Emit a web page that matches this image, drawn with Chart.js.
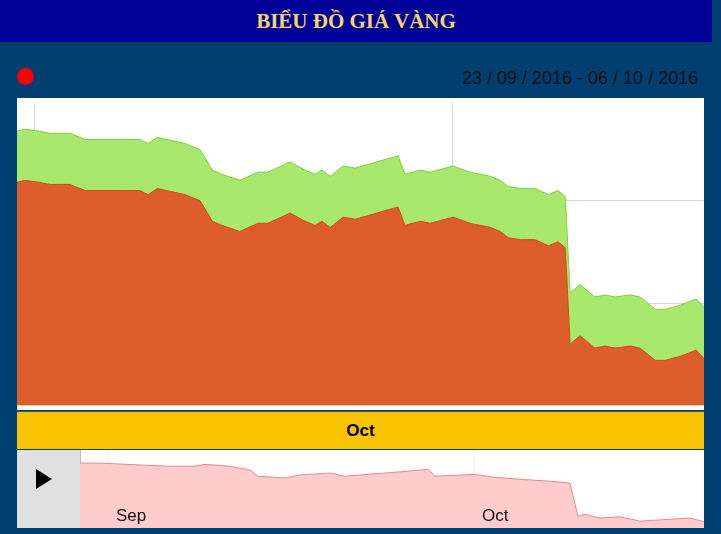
<!DOCTYPE html>
<html>
<head>
<meta charset="utf-8">
<script src="https://cdn.jsdelivr.net/npm/chart.js@4/dist/chart.umd.min.js"></script>
<style>
    body { margin: 0; width: 721px; height: 534px; background: #003f70; position: relative; overflow: hidden; font-family: "Liberation Sans", Arial, sans-serif; }
    .g-header { position: absolute; left: 0; top: 0; width: 712px; height: 42px; background: #000096; text-align: center; }
    .g-header span { line-height: 42px; font-family: "Liberation Serif", serif; font-weight: bold; font-size: 21px; color: #f3d66a; }
    .g-dot { position: absolute; left: 17px; top: 68px; width: 17px; height: 17px; border-radius: 50%; background: #f00; }
    .g-range { position: absolute; left: 462px; top: 68px; width: 242px; overflow: hidden; white-space: nowrap; font-size: 18px; color: #111; }
    .g-main { position: absolute; left: 17px; top: 98px; width: 687px; height: 312px; background: #fff; }
    .g-band { position: absolute; left: 17px; top: 411px; width: 687px; height: 37px; background: #f8c300; text-align: center; font-weight: bold; font-size: 17px; line-height: 37px; border-top: 1px solid #455; }
    .g-nav { position: absolute; left: 17px; top: 450px; width: 687px; height: 78px; background: #fff; }
    .g-play { position: absolute; left: 0; top: 0; width: 63px; height: 78px; background: #e0e0e0; border-right: 1px solid #bbb; }
    .g-play i { position: absolute; left: 19px; top: 19px; border-left: 16px solid #000; border-top: 10px solid transparent; border-bottom: 10px solid transparent; }
    .g-nav-lbl { position: absolute; top: 56px; font-size: 17px; color: #111; }
</style>
</head>
<body>
<div class="g-header"><span>BIỂU ĐỒ GIÁ VÀNG</span></div>
<div class="g-dot"></div>
<div class="g-range">23 / 09 / 2016 - 06 / 10 / 2016</div>
<div class="g-main"><canvas id="main-chart"></canvas></div>
<div class="g-band">Oct</div>
<div class="g-nav">
    <div class="g-play"><i></i></div>
    <div style="position:absolute; left:63px; top:0; width:624px; height:78px;"><canvas id="nav-chart"></canvas></div>
    <span class="g-nav-lbl" style="left:99px">Sep</span>
    <span class="g-nav-lbl" style="left:465px">Oct</span>
</div>

<script>(function() { "use strict";

    // days since 23/09 (fractional)
    var days = [0, 0.15, 0.43, 0.62, 1.00, 1.29, 1.76, 1.95, 2.04, 2.32, 2.48, 2.65, 3.18, 3.46, 3.69, 3.87, 4.21, 4.55, 4.74, 5.16,
        5.44, 5.63, 5.76, 5.92, 6.16, 6.39, 7.20, 7.33, 7.62, 7.81, 8.24, 8.56, 8.94, 9.13, 9.28, 9.51, 9.79, 10.04, 10.22, 10.36,
        10.45, 10.64, 10.92, 11.11, 11.30, 11.59, 11.77, 12.06, 12.25, 12.53, 12.83, 12.98];
    var sell_prices = [36.34, 36.35, 36.34, 36.33, 36.33, 36.30, 36.30, 36.30, 36.30, 36.30, 36.28, 36.31, 36.28, 36.25, 36.15, 36.13, 36.10, 36.14, 36.14, 36.19,
        36.15, 36.13, 36.15, 36.12, 36.17, 36.16, 36.22, 36.13, 36.15, 36.14, 36.17, 36.14, 36.12, 36.10, 36.07, 36.06, 36.06, 36.03, 36.05, 36.02,
        35.55, 35.59, 35.53, 35.54, 35.53, 35.54, 35.53, 35.47, 35.47, 35.49, 35.52, 35.48];
    var buy_prices = [36.09, 36.10, 36.09, 36.08, 36.08, 36.05, 36.05, 36.05, 36.05, 36.05, 36.03, 36.06, 36.03, 36.00, 35.90, 35.88, 35.85, 35.89, 35.89, 35.94,
        35.90, 35.88, 35.90, 35.87, 35.92, 35.91, 35.97, 35.88, 35.90, 35.89, 35.92, 35.89, 35.87, 35.85, 35.82, 35.81, 35.81, 35.78, 35.80, 35.77,
        35.30, 35.34, 35.28, 35.29, 35.28, 35.29, 35.28, 35.22, 35.22, 35.24, 35.27, 35.23];
    var y_ticks = [35.0, 35.5, 36.0];
    var x_grid_days = [0.34, 8.22];

    // navigator (longer history)
    var nav_days = [0, 1.28, 3.85, 5.77, 7.37, 8.01, 9.62, 10.9, 11.41, 13.14, 14.1, 16.03, 16.99, 17.95, 20.51, 22.31, 22.76, 25.32,
        26.28, 28.2, 30.13, 31.41, 31.92, 32.37, 33.33, 34.62, 35.9, 37.18, 39.1, 40];
    var nav_prices = [36.3, 36.3, 36.27, 36.25, 36.25, 36.28, 36.25, 36.19, 36.09, 36.06, 36.11, 36.14, 36.09, 36.11, 36.16, 36.2, 36.09, 36.12,
        36.08, 36.04, 36.01, 35.98, 35.45, 35.48, 35.42, 35.44, 35.37, 35.39, 35.42, 35.36];
    var nav_grid_days = [1.8, 25.25];

    function toPoints(xs, ys) {
        return xs.map(function(x, i) { return { x: x, y: ys[i] }; });
    }

    new Chart(document.getElementById('main-chart'), {
        type: 'line',
        data: {
            datasets: [{
                data: toPoints(days, buy_prices),
                backgroundColor: '#dd5e2a',
                borderColor: '#c84e1c',
                borderWidth: 1,
                fill: 'start',
                pointRadius: 0
            }, {
                data: toPoints(days, sell_prices),
                backgroundColor: '#a8e86c',
                borderColor: '#7fd040',
                borderWidth: 1,
                fill: 'start',
                pointRadius: 0
            }]
        },
        options: {
            responsive: true,
            maintainAspectRatio: false,
            animation: false,
            layout: { padding: 0 },
            plugins: { legend: { display: false }, tooltip: { enabled: false } },
            scales: {
                x: {
                    type: 'linear',
                    min: 0,
                    max: 12.98,
                    afterBuildTicks: function(axis) { axis.ticks = x_grid_days.map(function(v) { return { value: v }; }); },
                    ticks: { display: false },
                    grid: { color: '#dadada', drawTicks: false },
                    border: { display: false }
                },
                y: {
                    min: 35.0,
                    max: 36.48,
                    afterBuildTicks: function(axis) { axis.ticks = y_ticks.map(function(v) { return { value: v }; }); },
                    ticks: {
                        mirror: true,
                        padding: -5,
                        labelOffset: -10,
                        color: '#222',
                        font: { size: 16, family: 'Liberation Sans' },
                        callback: function(v) { return v.toFixed(1).replace('.', ','); }
                    },
                    grid: { color: '#dadada', drawTicks: false },
                    border: { display: false }
                }
            }
        }
    });

    new Chart(document.getElementById('nav-chart'), {
        type: 'line',
        data: {
            datasets: [{
                data: toPoints(nav_days, nav_prices),
                backgroundColor: '#ffcccc',
                borderColor: '#e88a8a',
                borderWidth: 1,
                fill: 'start',
                pointRadius: 0
            }]
        },
        options: {
            responsive: true,
            maintainAspectRatio: false,
            animation: false,
            plugins: { legend: { display: false }, tooltip: { enabled: false } },
            scales: {
                x: {
                    type: 'linear',
                    min: 0,
                    max: 40,
                    afterBuildTicks: function(axis) { axis.ticks = nav_grid_days.map(function(v) { return { value: v }; }); },
                    ticks: { display: false },
                    grid: { color: '#eeeeee', drawTicks: false },
                    border: { display: false }
                },
                y: { display: false, min: 35.26, max: 36.51 }
            }
        }
    });

})();</script>
</body>
</html>
